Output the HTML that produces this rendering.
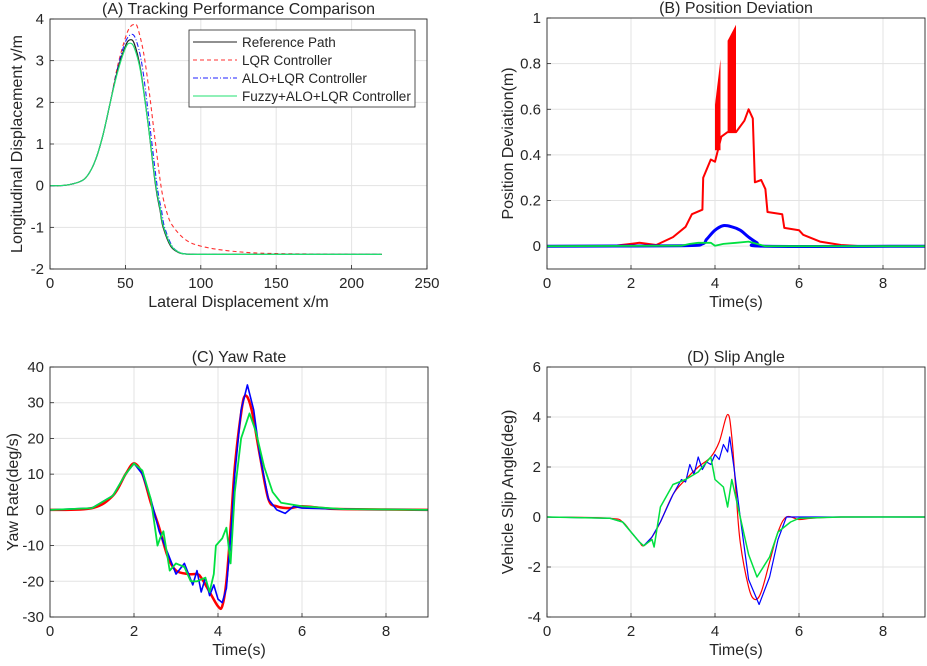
<!DOCTYPE html>
<html><head><meta charset="utf-8">
<style>
html,body{margin:0;padding:0;background:#fff;}
svg{display:block;font-family:"Liberation Sans",Arial,sans-serif;}
</style></head>
<body>
<svg id="fig" width="927" height="666" viewBox="0 0 927 666" xmlns="http://www.w3.org/2000/svg"></svg>
<script>
// ---------- Panel A data ----------
const aRefX = [0,10,20,25,30,35,40,45,50,53,56,60,65,70,73,75,80,85,90,100,150,220];
const aRefY = [0,0.01,0.1,0.25,0.6,1.2,2.0,2.8,3.35,3.5,3.4,2.8,1.5,0.0,-0.6,-1.0,-1.45,-1.6,-1.64,-1.65,-1.65,-1.65];
const aLqrX = [0,10,20,25,30,35,40,45,50,53,56,58,62,66,70,74,78,82,90,100,120,150,220];
const aLqrY = [0,0.01,0.1,0.25,0.6,1.2,2.0,2.9,3.55,3.8,3.87,3.8,3.2,2.2,1.0,-0.1,-0.7,-1.0,-1.3,-1.45,-1.57,-1.63,-1.65];
const aAloX = [0,10,20,25,30,35,40,45,50,54,57,61,66,71,74,76,81,86,91,100,150,220];
const aAloY = [0,0.01,0.1,0.25,0.6,1.2,2.0,2.85,3.45,3.63,3.5,2.9,1.5,0.0,-0.6,-1.0,-1.45,-1.6,-1.64,-1.65,-1.65,-1.65];
const aFuzX = [0,10,20,25,30,35,40,45,50,53,56,60,65,70,73,75,80,85,90,100,150,220];
const aFuzY = [0,0.01,0.1,0.25,0.6,1.2,2.0,2.75,3.3,3.42,3.3,2.75,1.5,0.05,-0.55,-0.95,-1.42,-1.59,-1.64,-1.65,-1.65,-1.65];
const aXTicks = [0,50,100,150,200,250];
const aYTicks = [4,3,2,1,0,-1,-2];
const legendLabels = ["Reference Path","LQR Controller","ALO+LQR Controller","Fuzzy+ALO+LQR Controller"];

// ---------- Panel B data ----------
const bRedT = [0,1.5,1.9,2.2,2.6,3.0,3.3,3.45,3.7,3.72,3.9,4.0,4.15,4.3,4.5,4.7,4.8,4.9,4.95,5.1,5.2,5.25,5.6,5.65,6.0,6.1,6.5,7.0,7.5,9];
const bRedV = [0,0,0.008,0.015,0.005,0.04,0.085,0.14,0.16,0.3,0.38,0.37,0.48,0.5,0.5,0.55,0.6,0.56,0.28,0.29,0.25,0.15,0.14,0.08,0.07,0.05,0.02,0.005,0,0];
const bSpikeStart = [4.0,4.3];
const bSpikeEnd = [4.13,4.5];
const bSpikeLow = [0.42,0.5];
const bSpikeHiStart = [0.62,0.9];
const bSpikeHiEnd = [0.82,0.97];
const bBlueT = [0,3.2,3.7,3.8,4.0,4.2,4.4,4.6,4.8,5.0,5.2,9];
const bBlueV = [0,0.002,0.01,0.03,0.07,0.09,0.085,0.07,0.04,0.015,0,0];
const bGreenT = [0,3.2,3.4,3.6,3.9,4.0,4.2,4.5,4.8,5.0,5.2,9];
const bGreenV = [0,0.002,0.01,0.015,0.015,0.002,0.01,0.015,0.02,0.01,0,0];
const bXTicks = [0,2,4,6,8];
const bYTicks = [1,0.8,0.6,0.4,0.2,0];

// ---------- Panel C data ----------
const cRedT = [0,1.0,1.5,1.8,2.0,2.2,2.4,2.6,2.8,3.0,3.3,3.5,3.6,3.8,4.0,4.1,4.2,4.3,4.4,4.55,4.65,4.8,5.0,5.2,5.4,5.7,6.0,6.5,7.0,9];
const cRedV = [0,0.5,4,10,13,10,2,-5,-13,-17,-18,-18,-19,-23,-27,-27,-20,-5,12,27,32,28,15,3,1,0.5,1,0.5,0.2,0];
const cBlueT = [0,1.0,1.5,1.8,2.0,2.2,2.4,2.6,2.8,3.0,3.2,3.4,3.5,3.6,3.7,3.8,3.9,4.0,4.1,4.2,4.3,4.4,4.55,4.7,4.85,5.0,5.2,5.4,5.6,5.8,6.0,7.0,9];
const cBlueV = [0,0.5,4,10,13,10,3,-6,-12,-18,-15,-21,-17,-23,-19,-24,-21,-25,-26,-22,-8,10,28,35,28,15,3,0,-1,1,0.5,0.2,0];
const cGreenT = [0,1.0,1.5,1.8,2.0,2.2,2.4,2.5,2.56,2.62,2.7,2.85,3.0,3.2,3.35,3.5,3.7,3.8,3.9,3.95,4.1,4.2,4.3,4.4,4.55,4.75,4.9,5.1,5.3,5.5,6.0,7.0,9];
const cGreenV = [0,0.5,4,10,13,11,3,-5,-10,-8,-6,-17,-15,-16,-20,-20,-19,-23,-18,-10,-8,-5,-15,5,20,27,22,12,5,2,1,0.2,0];
const cXTicks = [0,2,4,6,8];
const cYTicks = [40,30,20,10,0,-10,-20,-30];

// ---------- Panel D data ----------
const dRedT = [0,1.5,1.8,2.0,2.2,2.3,2.5,2.7,3.0,3.3,3.6,3.9,4.1,4.3,4.4,4.5,4.6,4.8,4.95,5.1,5.3,5.5,5.7,6.0,6.3,7.0,9];
const dRedV = [0,-0.05,-0.2,-0.6,-1.0,-1.15,-0.8,-0.2,0.9,1.5,2.0,2.4,3.0,4.1,3.2,1.0,-1.0,-2.8,-3.3,-3.0,-1.8,-0.6,0,-0.1,-0.05,0,0];
const dBlueT = [0,1.5,1.8,2.0,2.2,2.3,2.5,2.7,3.0,3.2,3.3,3.4,3.5,3.6,3.7,3.8,3.9,4.0,4.1,4.2,4.3,4.35,4.45,4.6,4.8,5.05,5.3,5.5,5.7,6.0,7.0,9];
const dBlueV = [0,-0.05,-0.2,-0.6,-1.0,-1.15,-0.8,-0.2,0.9,1.5,1.4,2.1,1.7,2.4,1.9,2.2,2.1,2.5,2.3,2.9,2.6,3.2,2.0,0,-2.5,-3.5,-2.4,-0.9,0,0,0,0];
const dGreenT = [0,1.5,1.8,2.0,2.2,2.3,2.5,2.55,2.7,2.8,3.0,3.3,3.6,3.9,4.0,4.2,4.3,4.4,4.6,4.8,5.0,5.3,5.5,5.8,6.0,7.0,9];
const dGreenV = [0,-0.05,-0.2,-0.6,-1.0,-1.15,-0.9,-1.2,0.4,0.7,1.3,1.5,1.8,2.4,1.5,1.2,0.4,1.5,0,-1.5,-2.4,-1.6,-0.6,-0.2,-0.05,0,0];
const dXTicks = [0,2,4,6,8];
const dYTicks = [6,4,2,0,-2,-4];

// ---------- rendering ----------
const NS = "http://www.w3.org/2000/svg";
const svg = document.getElementById("fig");
function mk(tag, attrs, parent){
  const e = document.createElementNS(NS, tag);
  for (const k in attrs) e.setAttribute(k, attrs[k]);
  (parent||svg).appendChild(e);
  return e;
}
function txt(s, x, y, size, anchor, parent, rot){
  const t = mk("text", {x:x, y:y, "font-size":size, "text-anchor":anchor||"middle", fill:"#262626"}, parent);
  if (rot) t.setAttribute("transform", "rotate(-90 "+x+" "+y+")");
  t.textContent = s;
  return t;
}
function makeAxes(p){
  const g = mk("g", {});
  
  
  const sx = v => p.x0 + (v - p.xmin) / (p.xmax - p.xmin) * (p.x1 - p.x0);
  const sy = v => p.y1 - (v - p.ymin) / (p.ymax - p.ymin) * (p.y1 - p.y0);
  mk("rect", {x:p.x0, y:p.y0, width:p.x1-p.x0, height:p.y1-p.y0, fill:"#fff"}, g);
  const grid = mk("g", {}, g);
  
  
  p.xt.forEach(v => {
    if (v > p.xmin && v < p.xmax) mk("line", {x1:sx(v), x2:sx(v), y1:p.y0, y2:p.y1, stroke:"#e3e3e3", "stroke-width":1}, grid);
    mk("line", {x1:sx(v), x2:sx(v), y1:p.y1, y2:p.y1-4, stroke:"#262626", "stroke-width":0.8}, g);
    const t = txt(String(v), sx(v), p.y1+19, 15, "middle", g);
    
    
  });
  p.yt.forEach(v => {
    if (v > p.ymin && v < p.ymax) mk("line", {x1:p.x0, x2:p.x1, y1:sy(v), y2:sy(v), stroke:"#e3e3e3", "stroke-width":1}, grid);
    mk("line", {x1:p.x0, x2:p.x0+4, y1:sy(v), y2:sy(v), stroke:"#262626", "stroke-width":0.8}, g);
    const t = txt(String(v), p.x0-6, sy(v)+5, 15, "end", g);
    
    
  });
  const tt = txt(p.title, (p.x0+p.x1)/2, p.y0-5, 16, "middle", g);
  
  
  const xl = txt(p.xlabel, (p.x0+p.x1)/2, p.y1+38, 16, "middle", g);
  
  
  const yl = txt(p.ylabel, p.ylx, (p.y0+p.y1)/2, 16, "middle", g, true);
  
  
  const cid = "clip-" + p.name;
  const cp = mk("clipPath", {id:cid}, g);
  mk("rect", {x:p.x0, y:p.y0, width:p.x1-p.x0, height:p.y1-p.y0}, cp);
  const plot = mk("g", {"clip-path":"url(#"+cid+")"}, g);
  return {g, plot, sx, sy, p};
}
function finish(ax){
  const p = ax.p;
  mk("rect", {x:p.x0, y:p.y0, width:p.x1-p.x0, height:p.y1-p.y0, fill:"none", stroke:"#262626", "stroke-width":0.9}, ax.g);
}
function smoothPath(P){
  let d = "M" + P[0][0].toFixed(1) + "," + P[0][1].toFixed(1);
  for (let i = 0; i < P.length - 1; i++){
    const p0 = P[Math.max(0,i-1)], p1 = P[i], p2 = P[i+1], p3 = P[Math.min(P.length-1,i+2)];
    const c1x = p1[0] + (p2[0]-p0[0])/6, c1y = p1[1] + (p2[1]-p0[1])/6;
    const c2x = p2[0] - (p3[0]-p1[0])/6, c2y = p2[1] - (p3[1]-p1[1])/6;
    d += " C" + c1x.toFixed(1)+","+c1y.toFixed(1)+" "+c2x.toFixed(1)+","+c2y.toFixed(1)+" "+p2[0].toFixed(1)+","+p2[1].toFixed(1);
  }
  return d;
}
function series(ax, xs, ys, color, w, dash, name, smooth){
  let l;
  if (smooth){
    const P = xs.map((x,i) => [ax.sx(x), ax.sy(ys[i])]);
    l = mk("path", {d:smoothPath(P), fill:"none", stroke:color, "stroke-width":w, "stroke-linejoin":"round"}, ax.plot);
  } else {
    const pts = xs.map((x,i) => ax.sx(x).toFixed(1)+","+ax.sy(ys[i]).toFixed(1)).join(" ");
    l = mk("polyline", {points:pts, fill:"none", stroke:color, "stroke-width":w, "stroke-linejoin":"round"}, ax.plot);
  }
  if (dash) l.setAttribute("stroke-dasharray", dash);
  
  
  return l;
}

// Panel A
const A = makeAxes({name:"panel-a", x0:50, x1:427, y0:19, y1:269, xmin:0, xmax:250, ymin:-2, ymax:4,
  xt:aXTicks, yt:aYTicks, title:"(A) Tracking Performance Comparison", xlabel:"Lateral Displacement x/m",
  ylabel:"Longitudinal Displacement y/m", ylx:22});
series(A, aLqrX, aLqrY, "#ff3030", 1.1, "4,3", "lqr-path-line", true);
series(A, aAloX, aAloY, "#2020ff", 1.1, "5,2,1,2", "alo-lqr-path-line", true);
series(A, aRefX, aRefY, "#222", 1.2, null, "reference-path-line", true);
series(A, aFuzX, aFuzY, "#20e070", 1.2, null, "fuzzy-alo-lqr-path-line", true);
finish(A);
// legend
const lg = mk("g", {});


mk("rect", {x:189, y:30, width:226, height:77, fill:"#fff", stroke:"#262626", "stroke-width":0.8}, lg);
const legColors = ["#222","#ff3030","#2020ff","#20e070"];
const legDash = [null,"4,3","5,2,1,2",null];
legendLabels.forEach((s,i) => {
  const y = 42 + i*18;
  const ln = mk("line", {x1:193, x2:237, y1:y, y2:y, stroke:legColors[i], "stroke-width":1.1}, lg);
  if (legDash[i]) ln.setAttribute("stroke-dasharray", legDash[i]);
  const t = txt(s, 242, y+5, 13.5, "start", lg);
  
  
});

// Panel B
const B = makeAxes({name:"panel-b", x0:547, x1:925, y0:18, y1:269, xmin:0, xmax:9, ymin:-0.1, ymax:1,
  xt:bXTicks, yt:bYTicks, title:"(B) Position Deviation", xlabel:"Time(s)", ylabel:"Position Deviation(m)", ylx:513});
series(B, bRedT, bRedV, "#ff0000", 2, null, "lqr-deviation-line", false);
bSpikeStart.forEach((t0,i) => {
  const t1 = bSpikeEnd[i];
  const pts = [[t0,bSpikeLow[i]],[t0,bSpikeHiStart[i]],[t1,bSpikeHiEnd[i]],[t1,bSpikeLow[i]]]
    .map(q => B.sx(q[0]).toFixed(1)+","+B.sy(q[1]).toFixed(1)).join(" ");
  const pg = mk("polygon", {points:pts, fill:"#ff0000"}, B.plot);
  
  
});
series(B, bBlueT, bBlueV, "#0000ff", 3, null, "alo-lqr-deviation-line", true);
series(B, bGreenT, bGreenV, "#00e040", 1.8, null, "fuzzy-deviation-line", false);
finish(B);

// Panel C
const C = makeAxes({name:"panel-c", x0:50, x1:428, y0:367, y1:617, xmin:0, xmax:9, ymin:-30, ymax:40,
  xt:cXTicks, yt:cYTicks, title:"(C) Yaw Rate", xlabel:"Time(s)", ylabel:"Yaw Rate(deg/s)", ylx:18});
series(C, cRedT, cRedV, "#ff0000", 2.5, null, "lqr-yaw-line", true);
series(C, cBlueT, cBlueV, "#0000ff", 1.6, null, "alo-lqr-yaw-line", false);
series(C, cGreenT, cGreenV, "#00e040", 1.8, null, "fuzzy-yaw-line", false);
finish(C);

// Panel D
const D = makeAxes({name:"panel-d", x0:547, x1:925, y0:367, y1:617, xmin:0, xmax:9, ymin:-4, ymax:6,
  xt:dXTicks, yt:dYTicks, title:"(D) Slip Angle", xlabel:"Time(s)", ylabel:"Vehicle Slip Angle(deg)", ylx:513});
series(D, dRedT, dRedV, "#ff0000", 1.2, null, "lqr-slip-line", true);
series(D, dBlueT, dBlueV, "#0000ff", 1.2, null, "alo-lqr-slip-line", false);
series(D, dGreenT, dGreenV, "#00e040", 1.5, null, "fuzzy-slip-line", false);
finish(D);
</script>
</body></html>
